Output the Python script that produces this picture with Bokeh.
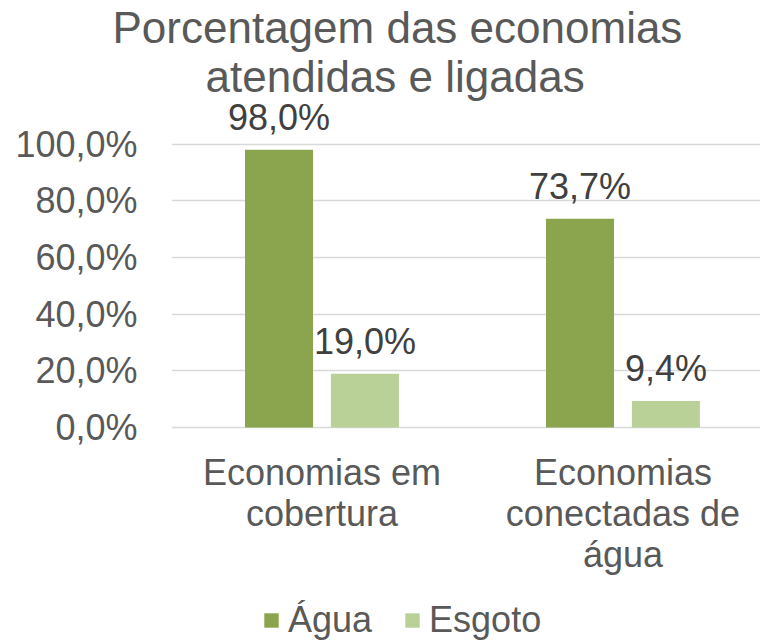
from bokeh.plotting import figure
from bokeh.models import (ColumnDataSource, FixedTicker, Legend, LegendItem, Title,
                          Range1d, CustomJSTickFormatter)
from bokeh.transform import dodge
from bokeh.core.properties import value
from bokeh.embed import file_html
from bokeh.resources import INLINE

title_lines = ["Porcentagem das economias", "atendidas e ligadas"]
categories = ["Economias em\ncobertura", "Economias\nconectadas de\nágua"]
agua = [98.0, 73.7]
esgoto = [19.0, 9.4]
y_ticks = [0, 20, 40, 60, 80, 100]
y_tick_labels = ["0,0%", "20,0%", "40,0%", "60,0%", "80,0%", "100,0%"]
series_names = ["Água", "Esgoto"]
colors = ["#8AA54E", "#B9D097"]

FONT = "Liberation Sans"
TXT = "#595959"
LBL = "#404040"
FS = "36px"

def fmt(v):
    return f"{v:.1f}".replace(".", ",") + "%"

xs = [i + 0.5 for i in range(len(categories))]
src = ColumnDataSource(dict(
    x=xs, agua=agua, esgoto=esgoto,
    agua_lbl=[fmt(v) for v in agua], esgoto_lbl=[fmt(v) for v in esgoto],
))

# the frame reaches the bottom of the page; the category axis sits at y = 0
p = figure(frame_width=589, frame_height=543, output_backend="svg", toolbar_location=None,
           x_range=Range1d(0, 1.957), y_range=Range1d(-75.5, 116.1),
           min_border_left=171, min_border_right=0, min_border_top=0,
           min_border_bottom=0, title=None)
p.outline_line_color = None
p.background_fill_color = "white"

off = 0.1427
w = 0.226
r1 = p.vbar(x=dodge("x", -off, range=p.x_range), top="agua", width=w, source=src,
            fill_color=colors[0], line_color=None)
r2 = p.vbar(x=dodge("x", off, range=p.x_range), top="esgoto", width=w, source=src,
            fill_color=colors[1], line_color=None)

for col, lbl, o in (("agua", "agua_lbl", -off), ("esgoto", "esgoto_lbl", off)):
    p.text(x=dodge("x", o, range=p.x_range), y=col, text=lbl, source=src,
           text_align="center", text_baseline="alphabetic", y_offset=-32,
           text_font=value(FONT), text_font_size=FS, text_color=LBL)

# axes
p.xaxis.fixed_location = 0
p.xaxis.ticker = FixedTicker(ticks=xs)
p.xaxis.formatter = CustomJSTickFormatter(args=dict(labels=categories),
                                          code="return labels[Math.floor(tick)]")
p.yaxis.ticker = FixedTicker(ticks=y_ticks)
p.yaxis.major_label_overrides = {t: l for t, l in zip(y_ticks, y_tick_labels)}
for ax in (p.xaxis[0], p.yaxis[0]):
    ax.axis_line_color = None
    ax.major_tick_line_color = None
    ax.minor_tick_line_color = None
    ax.major_tick_out = 0
    ax.major_tick_in = 0
    ax.major_label_text_font = FONT
    ax.major_label_text_font_size = FS
    ax.major_label_text_color = TXT
p.yaxis.major_label_standoff = 34
p.xaxis.major_label_standoff = 24
p.xaxis.major_label_text_line_height = 1.0
p.xgrid.grid_line_color = None
p.ygrid.ticker = FixedTicker(ticks=y_ticks)
p.ygrid.grid_line_color = "#D9D9D9"
p.ygrid.grid_line_width = 1.5

legend = Legend(items=[LegendItem(label=series_names[0], renderers=[r1]),
                       LegendItem(label=series_names[1], renderers=[r2])],
                orientation="horizontal", location=(91, 0),
                label_text_font=FONT, label_text_font_size=FS, label_text_color=TXT,
                glyph_width=18, glyph_height=18, spacing=31, label_standoff=8,
                border_line_color=None, background_fill_alpha=0, padding=0, margin=0)
p.add_layout(legend, "center")

# title lines, stacked above the frame (later ones sit further up)
p.add_layout(Title(text=title_lines[1], align="left", offset=34, text_font=FONT,
                   text_font_size="44px", text_color=TXT, text_font_style="normal",
                   standoff=-4), "above")
p.add_layout(Title(text=title_lines[0], align="left", offset=-59, text_font=FONT,
                   text_font_size="44px", text_color=TXT, text_font_style="normal",
                   standoff=0), "above")

open("out.html", "w").write(file_html(p, INLINE))
